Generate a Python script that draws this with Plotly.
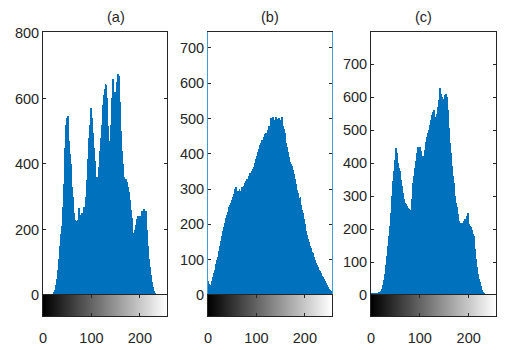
'''histogrammes (a) (b) (c) avec barre de niveaux de gris'''
import plotly.graph_objects as go

# comptes par niveau de gris, un point tous les 2 niveaux (0, 2, ..., 254)
hist_a = [0, 0, 0, 0, 0, 0, 0, 0, 0, 0, 2, 8, 15, 30, 50, 75,
          110, 150, 185, 210, 270, 340, 450, 520, 540, 548, 470, 430, 400, 330, 300, 280,
          250, 230, 210, 225, 230, 265, 245, 225, 250, 240, 268, 262, 300, 350, 415, 480,
          520, 570, 540, 495, 450, 410, 360, 330, 360, 390, 440, 480, 520, 580, 610, 630,
          645, 640, 600, 515, 470, 440, 520, 600, 660, 620, 570, 620, 650, 675, 670, 590,
          500, 440, 400, 360, 345, 355, 345, 330, 315, 290, 260, 235, 190, 175, 200, 215,
          232, 205, 240, 225, 242, 225, 255, 248, 262, 250, 255, 200, 150, 110, 85, 60,
          40, 25, 12, 5, 2, 0, 0, 0, 0, 0, 0, 0, 0, 0, 0, 0]
hist_b = [40, 30, 22, 28, 40, 50, 62, 72, 88, 100, 108, 125, 140, 152, 168, 180,
          192, 205, 218, 228, 235, 248, 255, 262, 270, 278, 285, 300, 306, 288, 295, 280,
          300, 296, 285, 305, 296, 310, 318, 322, 328, 318, 338, 345, 340, 352, 358, 362,
          375, 385, 395, 405, 415, 425, 432, 440, 438, 448, 455, 460, 458, 468, 480, 478,
          492, 500, 490, 505, 495, 485, 504, 498, 488, 500, 495, 490, 505, 480, 470, 458,
          432, 420, 405, 390, 378, 372, 365, 355, 342, 330, 315, 298, 288, 275, 265, 278,
          255, 240, 232, 215, 200, 180, 170, 160, 150, 140, 132, 122, 118, 108, 100, 92,
          86, 80, 72, 68, 62, 55, 50, 44, 40, 33, 28, 22, 18, 14, 10, 8]
hist_c = [2, 4, 5, 6, 5, 6, 7, 6, 8, 8, 12, 18, 30, 45, 65, 90,
          118, 150, 180, 210, 250, 300, 345, 375, 410, 445, 430, 400, 385, 375, 350, 330,
          310, 290, 280, 275, 270, 265, 262, 255, 258, 290, 320, 340, 360, 385, 405, 430,
          448, 445, 450, 435, 420, 405, 420, 440, 465, 480, 490, 500, 515, 530, 545, 555,
          560, 540, 532, 550, 570, 590, 628, 610, 600, 595, 590, 605, 608, 600, 560, 505,
          460, 430, 390, 360, 340, 315, 300, 280, 268, 245, 225, 218, 215, 218, 208, 225,
          230, 215, 240, 248, 215, 208, 205, 198, 185, 178, 140, 110, 85, 65, 50, 38,
          28, 15, 8, 5, 3, 2, 2, 1, 0, 0, 0, 0, 0, 0, 0, 0]
titles = ["(a)", "(b)", "(c)"]
y_max = [803, 745, 797]
y_ticks = [[0, 200, 400, 600, 800], [0, 100, 200, 300, 400, 500, 600, 700],
           [0, 100, 200, 300, 400, 500, 600, 700]]
x_ticks = [0, 100, 200]
levels = list(range(256))

# la page html garde une marge de 8 px autour de la figure
OFF = 8
W, H = 510 - OFF, 350 - OFF
panels_px = [(43, 167), (208, 332), (371, 496)]
top_px, zero_px, bar_px, title_px = 32, 295, 316, 17
DARK = "#262626"
BLUE = "#0072BD"
FONT = dict(family="Liberation Sans, Arial, sans-serif", size=14.5, color=DARK)


def fx(p):
    return (p - OFF) / W


def fy(p):
    return 1 - (p - OFF) / H


fig = go.Figure()
for i, counts in enumerate([hist_a, hist_b, hist_c]):
    n = i * 2 + 1
    xa, ya = "x%d" % n, "y%d" % n
    xb, yb = "x%d" % (n + 1), "y%d" % (n + 1)
    fig.add_trace(go.Bar(x=[2 * k + 1 for k in range(len(counts))], y=counts, width=2,
                         marker=dict(color=BLUE, line=dict(width=0)),
                         xaxis=xa, yaxis=ya, showlegend=False))
    fig.add_trace(go.Heatmap(x=[v + 0.5 for v in levels], z=[levels], y=[0.5],
                             colorscale=[[0, "black"], [1, "white"]], showscale=False,
                             xaxis=xb, yaxis=yb))
    x0, x1 = panels_px[i]
    dom_x = [fx(x0), fx(x1)]
    side = "#3f9ddc" if i == 1 else DARK
    fig.layout["xaxis%d" % n] = dict(domain=dom_x, range=[0, 256], showline=True,
                                      mirror=True, linecolor=DARK, linewidth=1, ticks="",
                                      showticklabels=False, showgrid=False,
                                      zeroline=False, anchor=ya)
    fig.layout["yaxis%d" % n] = dict(domain=[fy(zero_px), fy(top_px)],
                                      range=[0, y_max[i]], tickvals=y_ticks[i],
                                      showline=True, mirror="ticks", linecolor=side,
                                      ticks="inside", ticklen=3, tickcolor=DARK,
                                      showgrid=False, zeroline=False, anchor=xa,
                                      tickfont=FONT)
    fig.layout["xaxis%d" % (n + 1)] = dict(domain=dom_x, range=[0, 256], tickvals=x_ticks,
                                            showline=True, mirror="ticks", linecolor=DARK,
                                            ticks="inside", ticklen=3, tickcolor=DARK,
                                            ticklabelstandoff=9,
                                            showgrid=False, zeroline=False, anchor=yb,
                                            tickfont=FONT)
    fig.layout["yaxis%d" % (n + 1)] = dict(domain=[fy(bar_px), fy(zero_px)],
                                            range=[0, 1], showline=True, mirror=True,
                                            linecolor=DARK, showticklabels=False,
                                            ticks="", showgrid=False, zeroline=False,
                                            anchor=xb)
    fig.add_annotation(text=titles[i], x=(dom_x[0] + dom_x[1]) / 2, y=fy(title_px),
                       xref="paper", yref="paper", yanchor="middle", showarrow=False,
                       font=FONT)

fig.update_layout(width=W, height=H, margin=dict(l=0, r=0, t=0, b=0, autoexpand=False),
                  paper_bgcolor="white", plot_bgcolor="white", bargap=0)
fig.write_html("out.html")
